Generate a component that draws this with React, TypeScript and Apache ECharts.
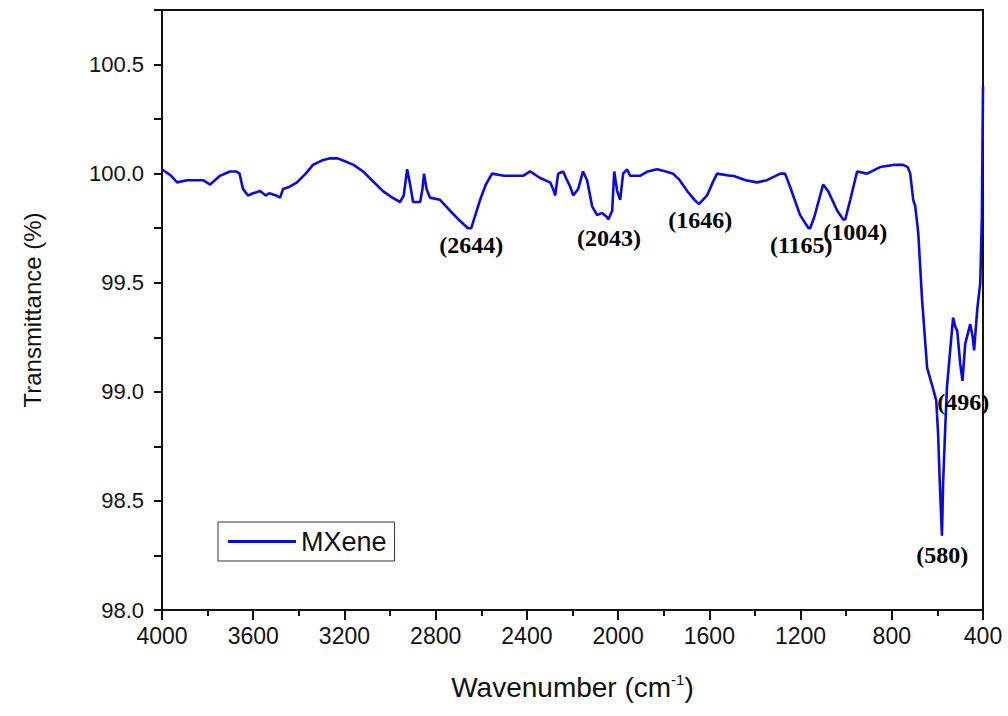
import React, { useEffect, useRef } from "react";
import * as echarts from "echarts";

const wavenumbers: number[] = [
  4000, 3960, 3934, 3890, 3820, 3789, 3746, 3702, 3675, 3660, 3645, 3623, 3600, 3570, 3545, 3530, 3500,
  3482, 3469, 3440, 3408, 3370, 3338, 3300, 3263, 3230, 3206, 3160, 3118, 3070, 3031, 2990, 2956,
  2940, 2925, 2912, 2899, 2868, 2858, 2851, 2840, 2825, 2781, 2737, 2700, 2658, 2644, 2620, 2605,
  2580, 2553, 2500, 2461, 2417, 2386, 2342, 2298, 2285, 2276, 2263, 2241, 2224, 2210, 2197, 2175,
  2154, 2136, 2114, 2092, 2070, 2048, 2043, 2026, 2017, 2004, 1991, 1978, 1961, 1947, 1904, 1870,
  1829, 1790, 1759, 1730, 1697, 1665, 1646, 1610, 1585, 1566, 1509, 1496, 1440, 1391, 1347, 1289,
  1268, 1246, 1202, 1165, 1158, 1140, 1127, 1101, 1079, 1039, 1013, 1004, 982, 952, 908, 851,
  794, 750, 730, 719, 706, 697, 684, 667, 645, 623, 605, 597, 590, 580, 575, 565,
  558, 544, 531, 522, 513, 500, 490, 478, 456, 445, 439, 425, 412, 405, 400,
];

const transmittance: number[] = [
  100.02, 99.99, 99.96, 99.97, 99.97, 99.95, 99.99, 100.01, 100.01, 100.0, 99.93, 99.9, 99.91, 99.92, 99.9, 99.91, 99.9,
  99.89, 99.93, 99.94, 99.96, 100.0, 100.04, 100.06, 100.07, 100.07, 100.06, 100.04, 100.01, 99.96, 99.92, 99.89, 99.87,
  99.9, 100.02, 99.95, 99.87, 99.87, 99.93, 100.0, 99.93, 99.89, 99.88, 99.83, 99.79, 99.75, 99.75, 99.83, 99.88,
  99.95, 100.0, 99.99, 99.99, 99.99, 100.01, 99.98, 99.96, 99.93, 99.9, 100.0, 100.01, 99.97, 99.94, 99.9, 99.93,
  100.01, 99.97, 99.85, 99.81, 99.82, 99.8, 99.79, 99.83, 100.01, 99.92, 99.88, 100.0, 100.02, 99.99, 99.99, 100.01,
  100.02, 100.01, 100.0, 99.97, 99.92, 99.88, 99.86, 99.9, 99.96, 100.0, 99.99, 99.99, 99.97, 99.96, 99.97, 100.0,
  100.0, 99.94, 99.81, 99.75, 99.75, 99.8, 99.85, 99.95, 99.92, 99.83, 99.79, 99.79, 99.88, 100.01, 100.0, 100.03,
  100.04, 100.04, 100.03, 100.0, 99.88, 99.85, 99.73, 99.42, 99.11, 99.03, 98.96, 98.81, 98.6, 98.34, 98.58, 98.85,
  99.02, 99.19, 99.34, 99.3, 99.28, 99.13, 99.05, 99.22, 99.31, 99.25, 99.19, 99.38, 99.5, 99.8, 100.4,
];

const peakLabels: string[] = ["(2644)", "(2043)", "(1646)", "(1165)", "(1004)", "(580)", "(496)"];
const peakLabelX: number[] = [2644, 2040, 1640, 1197, 960, 579, 487];
const peakLabelY: number[] = [99.674, 99.706, 99.789, 99.674, 99.734, 98.252, 98.954];

const xTickMin = 400;
const xTickMax = 4000;
const yMin = 98;
const yMax = 100.75;

export default function App() {
  const ref = useRef<HTMLDivElement>(null);

  useEffect(() => {
    if (!ref.current) return;
    const chart = echarts.init(ref.current, null, { renderer: "svg" });
    const lineData = wavenumbers.map((w, i) => [w, transmittance[i]]);
    const labelData = peakLabels.map((t, i) => ({ name: t, value: [peakLabelX[i], peakLabelY[i]] }));
    const axisFont = "Liberation Sans, Arial, sans-serif";

    chart.setOption({
      animation: false,
      backgroundColor: "#ffffff",
      grid: {
        left: 162,
        right: 25,
        top: 10,
        bottom: 106,
        show: true,
        borderColor: "#111",
        borderWidth: 2,
        backgroundColor: "transparent",
      },
      legend: {
        data: ["MXene"],
        left: 218,
        top: 522,
        orient: "horizontal",
        icon: "rect",
        itemWidth: 68,
        itemHeight: 3,
        itemGap: 8,
        padding: [6, 8, 6, 10],
        borderColor: "#333",
        borderWidth: 1,
        textStyle: { fontFamily: axisFont, fontSize: 27, color: "#111" },
      },
      xAxis: {
        type: "value",
        inverse: true,
        min: xTickMin,
        max: xTickMax,
        interval: 400,
        name: "Wavenumber (cm{sup|-1})",
        nameLocation: "middle",
        nameGap: 62,
        nameTextStyle: {
          fontFamily: axisFont,
          fontSize: 28,
          color: "#111",
          rich: {
            sup: { fontFamily: axisFont, fontSize: 15, verticalAlign: "top", padding: [0, 0, 16, 0], color: "#111" },
          },
        },
        axisLine: { show: true, onZero: false, lineStyle: { color: "#111", width: 2 } },
        axisTick: { show: true, inside: false, length: 10, lineStyle: { color: "#111", width: 2 } },
        minorTick: { show: true, splitNumber: 2, length: 6, lineStyle: { color: "#111", width: 2 } },
        splitLine: { show: false },
        axisLabel: {
          fontFamily: axisFont,
          fontSize: 23,
          color: "#111",
          margin: 14,
          showMinLabel: true,
          showMaxLabel: true,
          formatter: (v: number) => String(v),
        },
      },
      yAxis: {
        type: "value",
        min: yMin,
        max: yMax,
        interval: 0.5,
        name: "Transmittance (%)",
        nameLocation: "middle",
        nameGap: 118,
        nameTextStyle: { fontFamily: axisFont, fontSize: 24, color: "#111" },
        axisLine: { show: true, lineStyle: { color: "#111", width: 2 } },
        axisTick: { show: true, inside: false, length: 8, lineStyle: { color: "#111", width: 2 } },
        minorTick: { show: true, splitNumber: 2, length: 8, lineStyle: { color: "#111", width: 2 } },
        splitLine: { show: false },
        axisLabel: {
          fontFamily: axisFont,
          fontSize: 22,
          color: "#111",
          margin: 18,
          showMaxLabel: false,
          formatter: (v: number) => v.toFixed(1),
        },
      },
      series: [
        {
          name: "MXene",
          type: "line",
          data: lineData,
          showSymbol: false,
          symbol: "none",
          lineStyle: { color: "#0a0ade", width: 2.6 },
          itemStyle: { color: "#0a0ade" },
          z: 3,
        },
        {
          name: "labels",
          type: "scatter",
          data: labelData,
          symbolSize: 0,
          itemStyle: { color: "#000", opacity: 1 },
          silent: true,
          z: 5,
          label: {
            show: true,
            position: "inside",
            formatter: (p: any) => p.name,
            fontFamily: "Liberation Serif, Times New Roman, serif",
            fontWeight: "bold",
            fontSize: 24,
            color: "#000",
            textBorderWidth: 0,
            opacity: 1,
          },
        },
      ],
    });

    return () => chart.dispose();
  }, []);

  return (
    <div
      ref={ref}
      style={{ position: "fixed", left: 0, top: 0, width: 1008, height: 716, background: "#fff" }}
    />
  );
}
